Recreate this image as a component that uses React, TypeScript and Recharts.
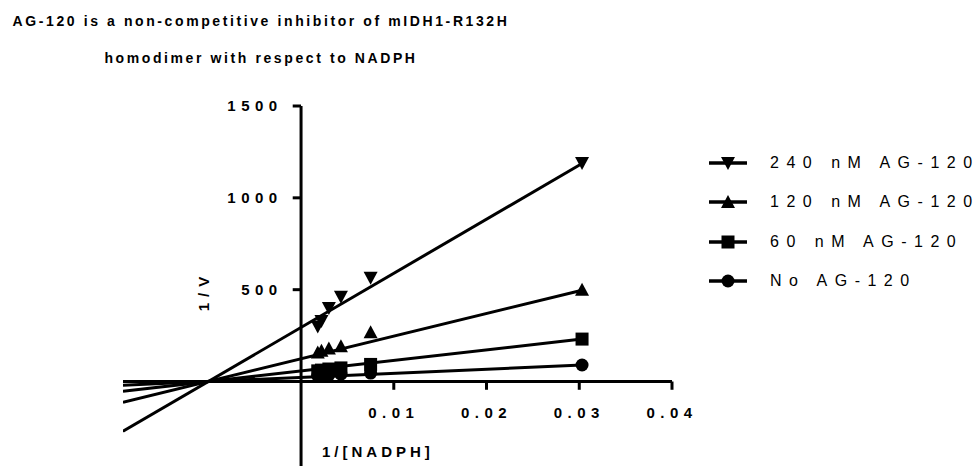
import { ComposedChart, XAxis, YAxis, Line, Scatter, ReferenceLine } from 'recharts';

// 1/[NADPH] values shared by every inhibitor level
const nadphInv = [0.0018, 0.0022, 0.003, 0.0043, 0.0075, 0.0303];

// 1/V measurements
const noInhibitor = [30, 33, 36, 40, 46, 90];
const ag60 = [58, 62, 68, 74, 93, 231];
const ag120 = [158, 168, 180, 192, 268, 500];
const ag240 = [300, 330, 400, 462, 565, 1190];

// linear fit ends
const fitX = [-0.0192, 0.0303];
const fitNo = [-20, 90];
const fit60 = [-53, 231];
const fit120 = [-113, 497];
const fit240 = [-271, 1187];

const xTicks = [0.01, 0.02, 0.03, 0.04];
const yTicks = [500, 1000, 1500];

const FONT = '"Liberation Sans", Arial, sans-serif';
const X_DOMAIN: [number, number] = [-0.0192, 0.04];
const Y_DOMAIN: [number, number] = [-460, 1500];
const TICK_DY = 45;
const TICK_DX = 0.0009;

type Kind = 'down' | 'up' | 'square' | 'circle';

const series: { name: string; values: number[]; fit: number[]; kind: Kind }[] = [
  { name: '240 nM AG-120', values: ag240, fit: fit240, kind: 'down' },
  { name: '120 nM AG-120', values: ag120, fit: fit120, kind: 'up' },
  { name: '60 nM AG-120', values: ag60, fit: fit60, kind: 'square' },
  { name: 'No AG-120', values: noInhibitor, fit: fitNo, kind: 'circle' },
];

function Marker({ cx, cy, kind }: { cx?: number; cy?: number; kind: Kind }) {
  if (cx == null || cy == null) return null;
  const s = 7;
  if (kind === 'down')
    return <polygon points={`${cx - s},${cy - 6} ${cx + s},${cy - 6} ${cx},${cy + 7}`} fill="#000" />;
  if (kind === 'up')
    return <polygon points={`${cx - s},${cy + 6} ${cx + s},${cy + 6} ${cx},${cy - 7}`} fill="#000" />;
  if (kind === 'square') return <rect x={cx - 6.5} y={cy - 6.5} width={13} height={13} fill="#000" />;
  return <circle cx={cx} cy={cy} r={6.5} fill="#000" />;
}

const tickLabel = {
  fontSize: 15,
  fontWeight: 'bold',
  fill: '#000',
  fontFamily: FONT,
  letterSpacing: 5.5,
};

export default function App() {
  return (
    <div style={{ position: 'absolute', left: 0, top: 0, width: 980, height: 466, background: '#fff', fontFamily: FONT }}>
      <div
        style={{
          position: 'absolute',
          left: 0,
          top: 3,
          width: 522,
          textAlign: 'center',
          fontSize: 14,
          fontWeight: 'bold',
          letterSpacing: 2.6,
          lineHeight: '37px',
        }}
      >
        AG-120 is a non-competitive inhibitor of mIDH1-R132H
        <br />
        homodimer with respect to NADPH
      </div>

      <ComposedChart width={980} height={466} margin={{ top: 106, right: 308, bottom: 0, left: 123 }}>
        <XAxis dataKey="x" type="number" domain={X_DOMAIN} allowDataOverflow hide />
        <YAxis dataKey="y" type="number" domain={Y_DOMAIN} allowDataOverflow hide />

        <ReferenceLine y={0} stroke="#000" strokeWidth={3} />
        <ReferenceLine x={0} stroke="#000" strokeWidth={3} />
        {xTicks.map((t) => (
          <ReferenceLine
            key={'xt' + t}
            segment={[{ x: t, y: 0 }, { x: t, y: -TICK_DY }]}
            stroke="#000"
            strokeWidth={3}
            label={{ value: t.toFixed(2), position: 'bottom', offset: 18, ...tickLabel }}
          />
        ))}
        {yTicks.map((t) => (
          <ReferenceLine
            key={'yt' + t}
            segment={[{ x: -TICK_DX, y: t }, { x: 0, y: t }]}
            stroke="#000"
            strokeWidth={3}
            label={{ value: String(t), position: 'left', offset: 10, ...tickLabel }}
          />
        ))}

        {series.map((s) => (
          <Line
            key={'fit' + s.name}
            data={fitX.map((x, i) => ({ x, y: s.fit[i] }))}
            dataKey="y"
            stroke="#000"
            strokeWidth={3}
            dot={false}
            activeDot={false}
            legendType="none"
            isAnimationActive={false}
          />
        ))}
        {series.map((s) => (
          <Scatter
            key={'pts' + s.name}
            name={s.name}
            data={nadphInv.map((x, i) => ({ x, y: s.values[i] }))}
            dataKey="y"
            shape={(p: any) => <Marker cx={p.cx} cy={p.cy} kind={s.kind} />}
            isAnimationActive={false}
          />
        ))}
      </ComposedChart>

      <div
        style={{
          position: 'absolute',
          left: 203,
          top: 291,
          transform: 'translate(-50%, -50%) rotate(-90deg)',
          fontSize: 15,
          fontWeight: 'bold',
          letterSpacing: 6,
          whiteSpace: 'nowrap',
        }}
      >
        1/V
      </div>
      <div
        style={{
          position: 'absolute',
          left: 322,
          top: 443,
          fontSize: 15,
          fontWeight: 'bold',
          letterSpacing: 4,
          whiteSpace: 'nowrap',
        }}
      >
        1/[NADPH]
      </div>

      <div style={{ position: 'absolute', left: 707, top: 143 }}>
        {series.map((s) => (
          <div key={s.name} style={{ display: 'flex', alignItems: 'center', height: 39.5 }}>
            <svg width={42} height={20}>
              <line x1={2} y1={10} x2={40} y2={10} stroke="#000" strokeWidth={3.5} />
              <Marker cx={21} cy={10} kind={s.kind} />
            </svg>
            <span style={{ marginLeft: 21, fontSize: 16, letterSpacing: 7.5, whiteSpace: 'nowrap' }}>{s.name}</span>
          </div>
        ))}
      </div>
    </div>
  );
}
